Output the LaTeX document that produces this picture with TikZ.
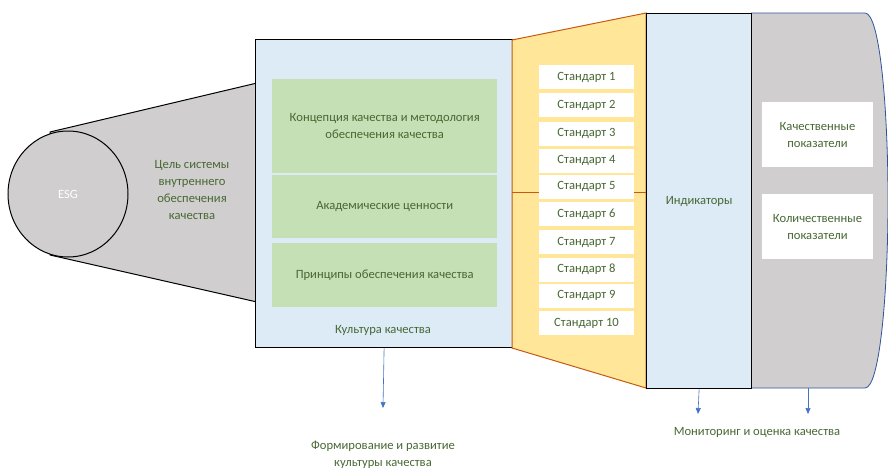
\documentclass[tikz,border=0pt]{standalone}
\usepackage{fontspec}
\setmainfont{Carlito}
\usetikzlibrary{shapes.geometric,arrows.meta}
\definecolor{txtgreen}{RGB}{72,104,52}
\definecolor{grayfill}{RGB}{208,206,206}
\definecolor{bluefill}{RGB}{221,235,247}
\definecolor{greenfill}{RGB}{197,224,180}
\definecolor{yellowfill}{RGB}{255,230,153}
\definecolor{orangeline}{RGB}{197,90,17}
\definecolor{arrowblue}{RGB}{68,114,196}
\definecolor{edgeblue}{RGB}{47,85,151}
\tikzset{
  lbl/.style={text=txtgreen, font=\fontsize{12.6}{17}\selectfont, align=center},
  greenbox/.style={fill=greenfill, draw=none, minimum width=225pt, anchor=north west, inner sep=0pt, lbl},
  stdbox/.style={fill=white, draw=none, minimum width=95pt, minimum height=24pt, inner sep=0pt, lbl},
  whitebox/.style={fill=white, draw=none, minimum width=111pt, minimum height=65pt, inner sep=0pt, lbl},
  arr/.style={arrowblue, line width=0.6pt, -{Triangle[width=5pt,length=6pt]}},
}
\begin{document}
\begin{tikzpicture}[x=1pt,y=-1pt]
\useasboundingbox (0,0) rectangle (888,469);
% gray trapezoid
\draw[fill=grayfill, line width=1pt] (50,132) -- (257,83) -- (257,302) -- (50,255) -- cycle;
% ESG circle
\node[ellipse, draw, line width=1pt, fill=grayfill, minimum width=120pt, minimum height=126pt, inner sep=0pt, text=white, font=\fontsize{12.6}{15}\selectfont] (esg) at (68,194) {ESG};
\node[lbl] (goal) at (192,190) {Цель системы\\внутреннего\\обеспечения\\качества};
% blue culture box
\node[draw, line width=1.2pt, fill=bluefill, minimum width=257pt, minimum height=308pt, anchor=north west, inner sep=0pt] (culture) at (255,39) {};
\node[greenbox, minimum height=94pt] (g1) at (272,79) {Концепция качества и методология\\обеспечения качества};
\node[greenbox, minimum height=63pt] (g2) at (272,175) {Академические ценности};
\node[greenbox, minimum height=64pt] (g3) at (272,243) {Принципы обеспечения качества};
\node[lbl] (cultlbl) at (383,330) {Культура качества};
% yellow trapezoid
\draw[fill=yellowfill, draw=orangeline, line width=1pt] (512,40) -- (646,13) -- (646,388) -- (512,348) -- cycle;
\draw[orangeline, line width=1pt] (512,192) -- (646,192);
% standards
\foreach \i/\y in {1/77,2/105,3/133.5,4/160.5,5/186.5,6/214,7/242,8/269.5,9/295.5,10/323}{
  \node[stdbox] (s\i) at (586.5,\y) {Стандарт \i};
}
% gray right shape
\draw[fill=grayfill, draw=edgeblue, line width=0.8pt] (751,13) -- (865,13) .. controls (880,13) and (888,110) .. (888,200) .. controls (888,290) and (880,388) .. (865,388) -- (751,388);
% indicators box
\node[draw, line width=1.2pt, fill=bluefill, minimum width=105pt, minimum height=375pt, anchor=north west, inner sep=0pt, lbl] (ind) at (646,13) {Индикаторы};
\node[whitebox] (qual) at (817.5,134.5) {Качественные\\показатели};
\node[whitebox] (quant) at (817.5,226.5) {Количественные\\показатели};
% arrows
\coordinate (a1) at (383,408);
\coordinate (a2) at (698,414);
\coordinate (a3) at (808,414);
\draw[arr] (culture.south) -- (a1);
\draw[arr] (ind.south) -- (a2);
\draw[arr] (808,388) -- (a3);
\node[lbl] (form) at (383,455) {Формирование и развитие\\культуры качества};
\node[lbl] (mon) at (757,432) {Мониторинг и оценка качества};
\end{tikzpicture}
\end{document}
